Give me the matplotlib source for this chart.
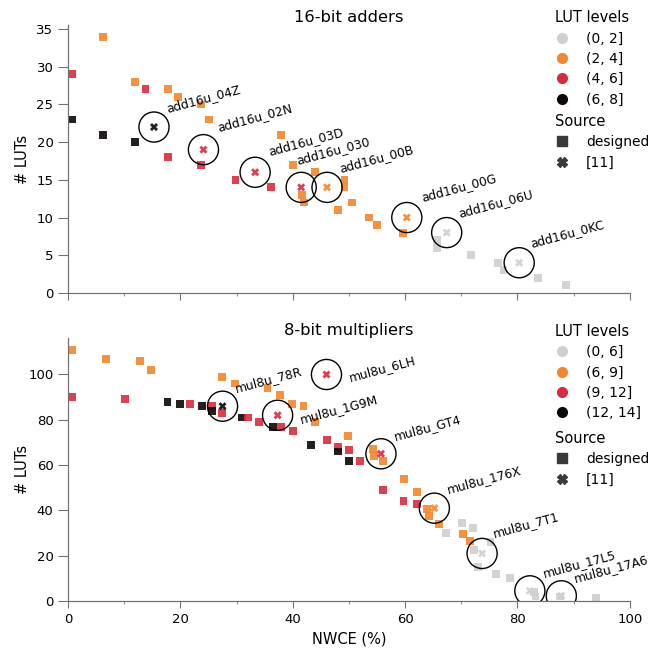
import numpy as np
import matplotlib
matplotlib.use("Agg")
import matplotlib.pyplot as plt
from matplotlib.lines import Line2D

# colori per i livelli di LUT
col_lut = ["#cfcfcf", "#f3862e", "#d92b3f", "#0d0606"]

# --- sommatori 16 bit: punti progettati ---
add_x = [0.8, 6.2, 11.9, 13.8, 17.8, 19.6, 23.7, 25.1, 0.8, 6.2, 11.9, 17.8,
         23.7, 29.8, 36.1, 37.9, 40.0, 43.9, 41.6, 42.0, 49.2, 49.2, 48.0,
         50.5, 53.5, 55.0, 59.6, 65.7, 65.7, 71.7, 76.5, 77.5, 83.6, 88.7]
add_y = [29, 34, 28, 27, 27, 26, 25, 23, 23, 21, 20, 18,
         17, 15, 14, 21, 17, 16, 13, 12, 15, 14, 11,
         12, 10, 9, 8, 7, 6, 5, 4, 3, 2, 1]
add_lvl = [2, 1, 1, 2, 1, 1, 1, 1, 3, 3, 3, 2,
           2, 2, 2, 1, 1, 1, 1, 1, 1, 1, 1,
           1, 1, 1, 1, 0, 0, 0, 0, 0, 0, 0]

# sommatori da [11]
add_ref_name = ["add16u_04Z", "add16u_02N", "add16u_03D", "add16u_030",
                "add16u_00B", "add16u_00G", "add16u_06U", "add16u_0KC"]
add_ref_x = [15.3, 24.1, 33.3, 41.5, 46.1, 60.3, 67.4, 80.3]
add_ref_y = [22, 19, 16, 14, 14, 10, 8, 4]
add_ref_lvl = [3, 2, 2, 2, 1, 1, 0, 0]

# --- moltiplicatori 8 bit: punti progettati ---
mul_x = [0.8, 0.8, 6.7, 12.8, 14.7, 10.1, 17.7, 20.0, 21.7, 23.8, 25.6, 25.7,
         27.4, 29.7, 27.4, 31.0, 32.1, 34.0, 35.5, 37.7, 36.5, 37.9, 40.0,
         39.9, 41.9, 44.0, 43.3, 46.1, 49.9, 48.0, 48.0, 50.0, 50.0, 52.0,
         54.3, 54.4, 56.0, 56.0, 59.8, 59.7, 62.1, 62.1, 63.9, 64.2, 66.0,
         67.3, 70.1, 72.1, 70.3, 71.6, 75.2, 72.2, 72.9, 76.1, 78.7, 82.9,
         83.2, 87.5, 93.9]
mul_y = [111, 90, 107, 106, 102, 89, 88, 87, 87, 86, 86, 84,
         99, 96, 83, 81, 81, 79, 94, 91, 77, 77, 75,
         87, 86, 79, 69, 71, 73, 68, 66, 66.5, 62, 62,
         67, 64, 62, 49, 54, 44, 48, 43, 40.5, 37.5, 34,
         30, 34.4, 32.2, 29.5, 26.5, 26, 22.5, 15, 12, 10, 4,
         2, 2, 1.5]
mul_lvl = [1, 2, 1, 1, 1, 2, 3, 3, 2, 3, 2, 3,
           1, 1, 2, 3, 2, 2, 1, 1, 3, 2, 2,
           1, 1, 1, 3, 2, 1, 2, 3, 2, 3, 2,
           1, 1, 1, 2, 1, 2, 1, 2, 1, 1, 1,
           0, 0, 0, 1, 1, 0, 0, 0, 0, 0, 0,
           0, 0, 0]

mul_ref_name = ["mul8u_78R", "mul8u_1G9M", "mul8u_6LH", "mul8u_GT4",
                "mul8u_176X", "mul8u_7T1", "mul8u_17L5", "mul8u_17A6"]
mul_ref_x = [27.5, 37.3, 46.0, 55.7, 65.2, 73.7, 82.2, 87.8]
mul_ref_y = [86, 82, 100, 65, 41, 21, 4.5, 2.3]
mul_ref_lvl = [3, 2, 2, 2, 1, 0, 0, 0]

add_levels = ["(0, 2]", "(2, 4]", "(4, 6]", "(6, 8]"]
mul_levels = ["(0, 6]", "(6, 9]", "(9, 12]", "(12, 14]"]

# spostamento etichette (punti)
add_off = [(10, 11), (11, 13), (10, 12), (-3, 17), (10, 11), (11, 12), (9, 11), (9, 11)]
mul_off = [(10, 10), (17, -6), (17, -5), (10, 10), (10, 11), (9, 12), (10, 10), (10, 10)]

plt.rcParams["font.family"] = "DejaVu Sans"
fig = plt.figure(figsize=(6.48, 6.48), dpi=100)
ax1 = fig.add_axes([0.105, 0.548, 0.867, 0.413])
ax2 = fig.add_axes([0.105, 0.0725, 0.867, 0.4055])


def disegna(ax, x, y, lvl, rx, ry, rlvl, names, offs, ymax, title):
    ax.scatter(x, y, c=[col_lut[i] for i in lvl], marker="s", s=32,
               alpha=0.9, linewidths=0, zorder=2)
    ax.scatter(rx, ry, c=[col_lut[i] for i in rlvl], marker="X", s=34,
               alpha=0.9, linewidths=0, zorder=3)
    ax.scatter(rx, ry, s=470, facecolors="none", edgecolors="black",
               linewidths=1.0, zorder=4)
    for n, px, py, o in zip(names, rx, ry, offs):
        ax.annotate(n, (px, py), xytext=o, textcoords="offset points",
                    rotation=15, rotation_mode="anchor", ha="left",
                    va="baseline", fontsize=8.8, zorder=5)
    ax.set_xlim(0, 100)
    ax.set_ylim(0, ymax)
    ax.set_xticks(np.arange(0, 101, 20))
    ax.set_xticks(np.arange(10, 100, 20), minor=True)
    for s in ["top", "right"]:
        ax.spines[s].set_visible(False)
    for s in ["left", "bottom"]:
        ax.spines[s].set_color("0.45")
        ax.spines[s].set_linewidth(0.9)
    ax.tick_params(axis="both", which="major", colors="0.45",
                   labelcolor="black", labelsize=9.5)
    ax.tick_params(axis="y", length=7)
    ax.tick_params(axis="x", which="major", length=5)
    ax.tick_params(axis="x", which="minor", length=2.5, colors="0.45")
    ax.set_ylabel("# LUTs", fontsize=10.5)
    ax.set_title(title, fontsize=11.8, pad=1)


disegna(ax1, add_x, add_y, add_lvl, add_ref_x, add_ref_y, add_ref_lvl,
        add_ref_name, add_off, 35.5, "16-bit adders")
ax1.set_yticks(np.arange(0, 36, 5))
ax1.tick_params(axis="x", labelbottom=False)

disegna(ax2, mul_x, mul_y, mul_lvl, mul_ref_x, mul_ref_y, mul_ref_lvl,
        mul_ref_name, mul_off, 116, "8-bit multipliers")
ax2.set_yticks(np.arange(0, 101, 20))
ax2.set_xlabel("NWCE (%)", fontsize=10.5)
ax1.yaxis.set_label_coords(-0.068, 0.5)
ax2.yaxis.set_label_coords(-0.068, 0.5)


def legenda(levels, ytop, gap):
    h1 = [Line2D([], [], ls="", marker="o", ms=7, color=c) for c in col_lut]
    fig.legend(h1, levels, title="LUT levels", loc="upper left",
               bbox_to_anchor=(0.842, ytop), frameon=False, fontsize=10,
               title_fontsize=10.5, alignment="left", handlelength=1.0,
               handletextpad=1.2, labelspacing=0.45, borderpad=0.2)
    h2 = [Line2D([], [], ls="", marker="s", ms=6.5, color="#3a3a3a"),
          Line2D([], [], ls="", marker="X", ms=7, color="#3a3a3a")]
    fig.legend(h2, ["designed", "[11]"], title="Source", loc="upper left",
               bbox_to_anchor=(0.842, ytop - gap), frameon=False,
               fontsize=10, title_fontsize=10.5, alignment="left",
               handlelength=1.0, handletextpad=1.2, labelspacing=0.45,
               borderpad=0.2)


legenda(add_levels, 0.999, 0.160)
legenda(mul_levels, 0.515, 0.165)

fig.savefig("out.png", dpi=100)
